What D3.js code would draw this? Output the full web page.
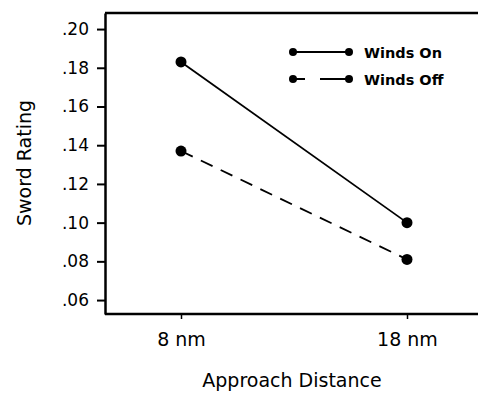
<!DOCTYPE html>
<html>
<head>
<meta charset="utf-8">
<script src="https://cdn.jsdelivr.net/npm/d3@7"></script>
<style>
  body { margin: 0; background: #fff; }
  svg { display: block; }
</style>
</head>
<body>
<div id="chart"></div>
<script>
// data
const distances = ["8 nm", "18 nm"];
const windsOn = [0.183, 0.100];
const windsOff = [0.137, 0.081];
const seriesNames = ["Winds On", "Winds Off"];
const yTicks = [0.06, 0.08, 0.10, 0.12, 0.14, 0.16, 0.18, 0.20];

const width = 478, height = 394;
const margin = {left: 105, top: 13, right: 0, bottom: 80};

const svg = d3.select("#chart")
    .append("svg")
    .attr("width", width)
    .attr("height", height);

const x = d3.scalePoint()
    .domain(distances)
    .range([181, 407]);

const y = d3.scaleLinear()
    .domain([0.0528, 0.2083])
    .range([height - margin.bottom, margin.top]);

const font = "'DejaVu Sans', sans-serif";

// y axis
const yAxis = svg.append("g")
    .attr("transform", `translate(${margin.left},0)`)
    .call(d3.axisLeft(y).tickValues(yTicks).tickSize(8).tickSizeOuter(0)
        .tickFormat(d => d3.format(".2f")(d).replace(/^0/, "")));
yAxis.select(".domain").attr("stroke-width", 2.5);
yAxis.selectAll(".tick line").attr("stroke-width", 2);
yAxis.selectAll("text")
    .attr("font-family", font)
    .attr("font-size", 17)
    .attr("x", -16)
    .attr("fill", "#000");

// x axis
const xAxis = svg.append("g")
    .attr("transform", `translate(0,${height - margin.bottom})`)
    .call(d3.axisBottom(x).tickSize(5).tickSizeOuter(0));
xAxis.select(".domain")
    .attr("d", `M${margin.left},0H${width}`)
    .attr("stroke-width", 2.5);
xAxis.selectAll(".tick line").attr("stroke-width", 1.5);
xAxis.selectAll("text")
    .attr("font-family", font)
    .attr("font-size", 19)
    .attr("y", 19)
    .attr("fill", "#000");

// top border
svg.append("line")
    .attr("x1", margin.left).attr("x2", width)
    .attr("y1", margin.top).attr("y2", margin.top)
    .attr("stroke", "#000").attr("stroke-width", 2.5);

// axis titles
svg.append("text")
    .attr("transform", `translate(31,${163}) rotate(-90)`)
    .attr("text-anchor", "middle")
    .attr("font-family", font)
    .attr("font-size", 19)
    .text("Sword Rating");

svg.append("text")
    .attr("x", 292).attr("y", 387)
    .attr("text-anchor", "middle")
    .attr("font-family", font)
    .attr("font-size", 19)
    .text("Approach Distance");

// series
const series = [
    {name: seriesNames[0], values: windsOn, dash: null},
    {name: seriesNames[1], values: windsOff, dash: "13,9"}
];

const line = d3.line()
    .x((d, i) => x(distances[i]))
    .y(d => y(d));

series.forEach(s => {
    svg.append("path")
        .datum(s.values)
        .attr("d", line)
        .attr("fill", "none")
        .attr("stroke", "#000")
        .attr("stroke-width", 1.8)
        .attr("stroke-dasharray", s.dash);
    svg.selectAll(null)
        .data(s.values)
        .enter()
        .append("circle")
        .attr("cx", (d, i) => x(distances[i]))
        .attr("cy", d => y(d))
        .attr("r", 5.5)
        .attr("fill", "#000");
});

// legend
const legend = svg.append("g").attr("transform", "translate(291,52)");
series.forEach((s, i) => {
    const g = legend.append("g").attr("transform", `translate(0,${i * 27})`);
    if (s.dash) {
        g.append("line").attr("x1", 0).attr("x2", 14).attr("stroke", "#000").attr("stroke-width", 2);
        g.append("line").attr("x1", 29).attr("x2", 59).attr("stroke", "#000").attr("stroke-width", 2);
    } else {
        g.append("line").attr("x1", 0).attr("x2", 59).attr("stroke", "#000").attr("stroke-width", 1.8);
    }
    g.append("circle").attr("cx", 2).attr("r", 4).attr("fill", "#000");
    g.append("circle").attr("cx", 58).attr("r", 4).attr("fill", "#000");
    g.append("text")
        .attr("x", 73).attr("y", 5.5)
        .attr("font-family", font)
        .attr("font-size", 14.5)
        .attr("font-weight", "bold")
        .text(s.name);
});
</script>
</body>
</html>
